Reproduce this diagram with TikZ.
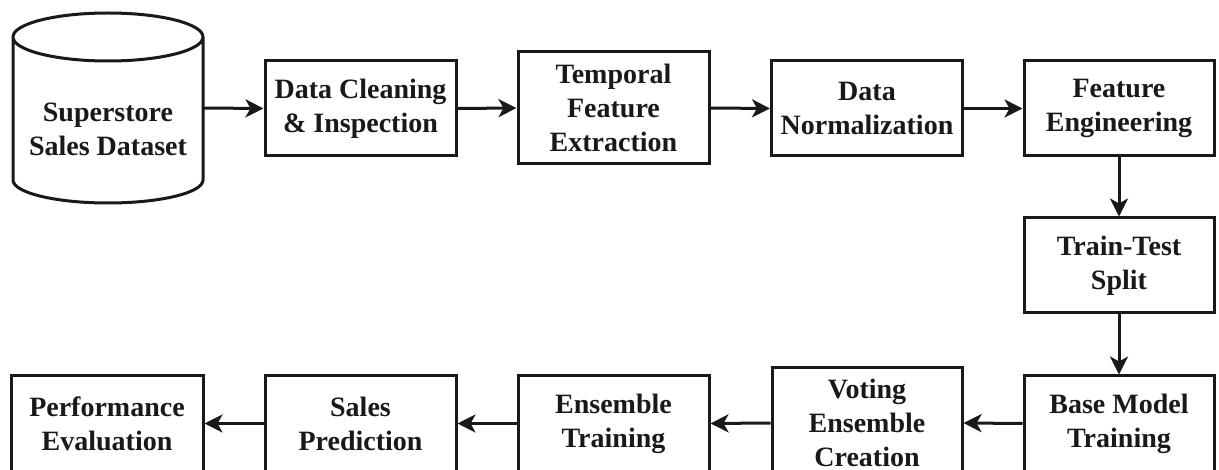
\documentclass[tikz,border=0pt]{standalone}
\usepackage{fontspec}
\setmainfont{Liberation Serif}
\usetikzlibrary{arrows.meta}
\begin{document}
\begin{tikzpicture}[x=1pt,y=-1pt,
  line width=3pt,
  stepbox/.style={draw=black!90, line width=3pt, minimum width=191pt, minimum height=95pt,
    inner sep=0pt, align=center, text=black!90,
    font=\fontsize{28}{34}\selectfont\bfseries},
  tallbox/.style={stepbox, minimum height=112pt},
  flow/.style={draw=black!90, line width=3pt,
    -{Stealth[length=18pt,width=18pt,inset=5pt]}}]
\useasboundingbox (0,0) rectangle (1219,470);
\fill[white] (0,0) rectangle (1219,470);

% dataset cylinder
\draw[black!90, line width=3pt]
  (13,37) -- (13,180) arc[start angle=180, end angle=360, x radius=95, y radius=-23]
  -- (203,37) arc[start angle=0, end angle=360, x radius=95, y radius=24];
\node[stepbox, draw=none, minimum width=190pt, minimum height=143pt] (ds) at (108,129)
  {Superstore\\Sales Dataset};
\coordinate (dsout) at (203,108);

% top row
\node[stepbox] (clean) at (360.5,108.5) {Data Cleaning\\\& Inspection};
\node[tallbox] (temp) at (613.5,108) {Temporal\\Feature\\Extraction};
\node[stepbox] (norm) at (867,108.5) {Data\\Normalization};
\node[stepbox, minimum width=190pt] (feat) at (1119,108.5) {Feature\\Engineering};

% right column
\node[stepbox, minimum width=190pt] (split) at (1119,265.5) {Train-Test\\Split};

% bottom row
\node[stepbox, minimum width=190pt] (base) at (1119,423.5) {Base Model\\Training};
\node[tallbox, minimum width=190pt, minimum height=110pt] (vote) at (867,423) {Voting\\Ensemble\\Creation};
\node[stepbox] (ens) at (613.5,423.5) {Ensemble\\Training};
\node[stepbox] (pred) at (360.5,423.5) {Sales\\Prediction};
\node[stepbox, minimum width=192pt] (perf) at (107,423.5) {Performance\\Evaluation};

% connectors
\draw[flow] (dsout) -- (clean.west);
\draw[flow] (clean.east) -- (temp.west);
\draw[flow] (temp.east) -- (norm.west);
\draw[flow] (norm.east) -- (feat.west);
\draw[flow] (feat.south) -- (split.north);
\draw[flow] (split.south) -- (base.north);
\draw[flow] (base.west) -- (vote.east);
\draw[flow] (vote.west) -- (ens.east);
\draw[flow] (ens.west) -- (pred.east);
\draw[flow] (pred.west) -- (perf.east);
\end{tikzpicture}
\end{document}
